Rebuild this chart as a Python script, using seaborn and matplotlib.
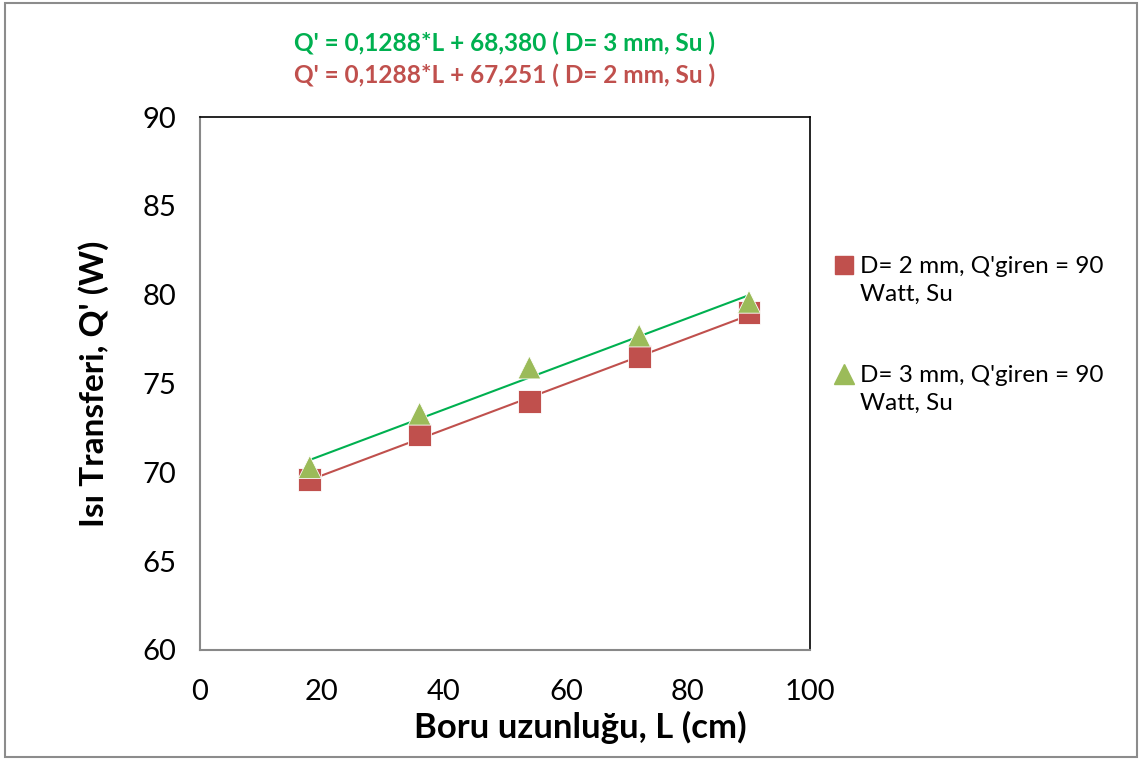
import numpy as np
import pandas as pd
import matplotlib
matplotlib.use("Agg")
import matplotlib.pyplot as plt
from matplotlib.lines import Line2D
from matplotlib.patches import Rectangle
import seaborn as sns

# Measured heat transfer vs. pipe length
length_cm = [18, 36, 54, 72, 90]
q_d2 = [69.6, 72.1, 74.0, 76.5, 79.0]
q_d3 = [70.3, 73.3, 75.9, 77.7, 79.6]

# Linear fit coefficients (slope, intercept)
fit_d2 = (0.1288, 67.251)
fit_d3 = (0.1288, 68.380)

label_d2 = ["D= 2 mm, Q'giren = 90", "Watt, Su"]
label_d3 = ["D= 3 mm, Q'giren = 90", "Watt, Su"]
eq_d3 = "Q' = 0,1288*L + 68,380 ( D= 3 mm, Su )"
eq_d2 = "Q' = 0,1288*L + 67,251 ( D= 2 mm, Su )"

x_ticks = [0, 20, 40, 60, 80, 100]
y_ticks = [60, 65, 70, 75, 80, 85, 90]

RED = "#C0504D"
GREEN_MARK = "#9BBB59"
GREEN_LINE = "#00B050"

sns.set_theme(style="white")
plt.rcParams["font.family"] = ["Lato", "DejaVu Sans"]
plt.rcParams["text.color"] = "black"
plt.rcParams["axes.labelcolor"] = "black"

fig = plt.figure(figsize=(11.4, 7.62), dpi=100)
ax = fig.add_axes([200 / 1140, 1 - 650 / 762, 610 / 1140, 533 / 762])

# Trend lines from the fit coefficients
L = np.array([length_cm[0], length_cm[-1]], dtype=float)
trend = pd.DataFrame({
    "L": np.concatenate([L, L]),
    "Q": np.concatenate([fit_d2[0] * L + fit_d2[1], fit_d3[0] * L + fit_d3[1]]),
    "series": ["d2"] * 2 + ["d3"] * 2,
})
sns.lineplot(data=trend, x="L", y="Q", hue="series",
             palette={"d2": RED, "d3": GREEN_LINE}, linewidth=1.5,
             legend=False, ax=ax, zorder=2)

pts = pd.DataFrame({
    "L": length_cm + length_cm,
    "Q": q_d2 + q_d3,
    "series": ["d2"] * 5 + ["d3"] * 5,
})
sns.scatterplot(data=pts, x="L", y="Q", hue="series", style="series",
                palette={"d2": RED, "d3": GREEN_MARK},
                markers={"d2": "s", "d3": "^"},
                s=270, edgecolor="white", linewidth=0.6, ax=ax, zorder=3,
                legend=False)

ax.set_xlim(0, 100)
ax.set_ylim(60, 90)
ax.set_xticks(x_ticks)
ax.set_yticks(y_ticks)
ax.tick_params(axis="both", which="major", direction="out", length=7,
               width=1.2, color="#888888", labelsize=21, labelcolor="black", pad=10)
ax.tick_params(axis="x", pad=14)

for side in ("left", "bottom"):
    ax.spines[side].set_color("#888888")
    ax.spines[side].set_linewidth(1.5)
for side in ("top", "right"):
    ax.spines[side].set_color("black")
    ax.spines[side].set_linewidth(1.2)

ax.set_xlabel("Boru uzunluğu, L (cm)", fontsize=25, fontweight="bold", labelpad=4)
ax.xaxis.label.set_x(0.623)
ax.set_ylabel("Isı Transferi, Q' (W)", fontsize=24, fontweight="bold", labelpad=24)

# Legend: marker beside the first line of each two-line entry
blank = Line2D([], [], linestyle="none")
h_d2 = Line2D([], [], marker="s", color=RED, linestyle="none", markersize=13)
h_d3 = Line2D([], [], marker="^", color=GREEN_MARK, linestyle="none", markersize=14)
handles = [h_d2, blank, blank, blank, h_d3, blank]
labels = [label_d2[0], label_d2[1], " ", " ", label_d3[0], label_d3[1]]
leg = ax.legend(handles, labels, loc="upper left",
                bbox_to_anchor=(832 / 1140, 1 - 256 / 762),
                bbox_transform=fig.transFigure, frameon=False, fontsize=17.5,
                handletextpad=0.15, handlelength=1.0, labelspacing=0.26,
                borderaxespad=0, borderpad=0)
for t in leg.get_texts():
    t.set_color("black")

fig.text(505 / 1140, 1 - 43 / 762, eq_d3, color=GREEN_LINE, fontsize=17.6,
         fontweight="bold", ha="center", va="center")
fig.text(505 / 1140, 1 - 75 / 762, eq_d2, color=RED, fontsize=17.6,
         fontweight="bold", ha="center", va="center")

# Chart border
fig.patches.append(Rectangle((5 / 1140, 5 / 762), 1132 / 1140, 754 / 762,
                             transform=fig.transFigure, fill=False,
                             edgecolor="#8c8c8c", linewidth=1.5))

fig.savefig("out.png", dpi=100)
